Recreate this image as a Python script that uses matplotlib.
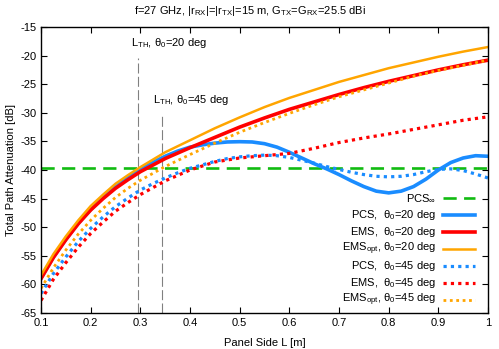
import numpy as np
import matplotlib
matplotlib.use("Agg")
import matplotlib.pyplot as plt

plt.rcParams['font.family'] = ['Liberation Sans', 'DejaVu Sans']
plt.rcParams['mathtext.fontset'] = 'custom'
plt.rcParams['mathtext.rm'] = 'Liberation Sans'
plt.rcParams['mathtext.it'] = 'Liberation Sans:italic'
plt.rcParams['axes.unicode_minus'] = False

# panel side L [m]
L = [0.100, 0.125, 0.150, 0.175, 0.200, 0.225, 0.250, 0.275, 0.300,
     0.35, 0.40, 0.45, 0.50, 0.55, 0.60, 0.65, 0.70, 0.75, 0.80, 0.85,
     0.90, 0.95, 1.00]
# finer grid for the PCS curves (oscillating part)
L_pcs = [0.100, 0.125, 0.150, 0.175, 0.200, 0.225, 0.250, 0.275, 0.300, 0.325,
         0.350, 0.375, 0.400, 0.425, 0.450, 0.475, 0.500, 0.525, 0.550, 0.575,
         0.600, 0.625, 0.650, 0.675, 0.700, 0.725, 0.750, 0.775, 0.800, 0.825,
         0.850, 0.875, 0.900, 0.925, 0.950, 0.975, 1.000]

pcs_inf = -39.7

ems_20 = [-59.0, -55.3, -52.2, -49.4, -47.0, -45.0, -43.2, -41.7, -40.3,
          -38.0, -36.1, -34.3, -32.5, -30.9, -29.4, -28.1, -26.8, -25.6, -24.5,
          -23.5, -22.5, -21.6, -20.8]
emsopt_20 = [-58.4, -54.7, -51.6, -48.8, -46.3, -44.3, -42.4, -40.9, -39.5,
             -36.9, -34.8, -32.7, -30.8, -29.0, -27.4, -26.0, -24.6, -23.4, -22.2,
             -21.2, -20.2, -19.3, -18.5]
ems_45 = [-62.8, -59.1, -56.2, -53.5, -51.1, -49.1, -47.2, -45.7, -44.3,
          -41.9, -40.0, -38.6, -37.9, -37.5, -37.1, -36.2, -35.2, -34.4, -33.7,
          -32.9, -32.1, -31.3, -30.7]
emsopt_45 = [-60.7, -57.1, -54.0, -51.2, -48.8, -46.7, -44.8, -43.2, -41.8,
             -39.4, -37.3, -35.3, -33.4, -31.7, -30.1, -28.6, -27.2, -26.0, -24.8,
             -23.6, -22.6, -21.7, -20.8]

pcs_20 = [-58.9, -55.2, -52.1, -49.3, -46.9, -44.8, -43.0, -41.4, -40.0, -38.7,
          -37.6, -36.7, -36.0, -35.6, -35.3, -35.1, -35.05, -35.1, -35.4, -36.0,
          -36.9, -37.9, -38.9, -39.8, -40.8, -41.9, -42.9, -43.7, -44.0, -43.7,
          -42.9, -41.6, -40.0, -38.7, -37.9, -37.5, -37.6]
pcs_45 = [-61.6, -58.1, -55.2, -52.5, -50.2, -48.2, -46.4, -44.9, -43.5, -42.4,
          -41.4, -40.5, -39.7, -39.1, -38.5, -38.0, -37.7, -37.5, -37.4, -37.5,
          -37.8, -38.3, -38.8, -39.4, -39.9, -40.4, -40.8, -41.1, -41.2, -41.1,
          -40.8, -40.3, -39.9, -39.8, -40.1, -40.7, -41.4]

L_th = [0.296, 0.343]
L_th_labels = [r'L$_{\rm TH}$, θ$_0$=20 deg', r'L$_{\rm TH}$, θ$_0$=45 deg']

xticks = [0.1, 0.2, 0.3, 0.4, 0.5, 0.6, 0.7, 0.8, 0.9, 1.0]
xticklabels = ['0.1', '0.2', '0.3', '0.4', '0.5', '0.6', '0.7', '0.8', '0.9', '1']
yticks = [-65, -60, -55, -50, -45, -40, -35, -30, -25, -20, -15]

blue = '#1a8cff'
red = '#ff0000'
orange = '#ffa500'
green = '#11bb11'
dot = (0, (1, 1.3))

fig = plt.figure(figsize=(4.99, 3.49), dpi=100)
ax = fig.add_axes([0.0822, 0.1032, 0.8958, 0.8194])

# threshold markers
ax.vlines(L_th[0], -65, -20.4, colors='gray', linestyles=(0, (9, 3)), lw=0.8)
ax.vlines(L_th[1], -65, -30.0, colors='gray', linestyles=(0, (9, 3)), lw=0.8)
ax.text(0.281, -17.8, L_th_labels[0], fontsize=8, va='center', ha='left')
ax.text(0.326, -27.8, L_th_labels[1], fontsize=8, va='center', ha='left')

series = [
    ('PCS$_\\infty$', None, None, green, 1.9, (0, (5, 2.8))),
    ('PCS,  θ$_0$=20 deg', L_pcs, pcs_20, blue, 2.6, '-'),
    ('EMS,  θ$_0$=20 deg', L, ems_20, red, 2.6, '-'),
    ('EMS$_{\\rm opt}$, θ$_0$=20 deg', L, emsopt_20, orange, 1.8, '-'),
    ('PCS,  θ$_0$=45 deg', L_pcs, pcs_45, blue, 2.3, dot),
    ('EMS,  θ$_0$=45 deg', L, ems_45, red, 2.3, dot),
    ('EMS$_{\\rm opt}$, θ$_0$=45 deg', L, emsopt_45, orange, 2.0, dot),
]

ax.axhline(pcs_inf, color=green, lw=1.9, ls=(0, (5, 2.8)))
for label, x, y, c, lw, ls in series[1:]:
    ax.plot(x, y, color=c, lw=lw, ls=ls)

# gnuplot-like legend: right-aligned text, sample on the right
leg_y = [0.402, 0.342, 0.283, 0.225, 0.165, 0.105, 0.045]
for (label, x, y, c, lw, ls), yy in zip(series, leg_y):
    ax.text(0.884, yy, label, transform=ax.transAxes, fontsize=8,
            ha='right', va='center')
    ax.plot([0.899, 0.971], [yy, yy], transform=ax.transAxes,
            color=c, lw=lw, ls=ls, clip_on=False)

ax.set_xlim(0.1, 1.0)
ax.set_ylim(-65, -15)
ax.set_xticks(xticks)
ax.set_xticklabels(xticklabels)
ax.set_yticks(yticks)
ax.tick_params(direction='in', top=True, right=True, length=4, labelsize=8, width=0.8)
for s in ax.spines.values():
    s.set_linewidth(1.0)

ax.set_xlabel('Panel Side L [m]', fontsize=8, labelpad=7)
ax.set_ylabel('Total Path Attenuation [dB]', fontsize=8, labelpad=3)
fig.text(0.5, 0.968, r'f=27 GHz, |r$_{\rm RX}$|=|r$_{\rm TX}$|=15 m, G$_{\rm TX}$=G$_{\rm RX}$=25.5 dBi',
         ha='center', va='center', fontsize=8)

fig.savefig('out.png', dpi=100)
